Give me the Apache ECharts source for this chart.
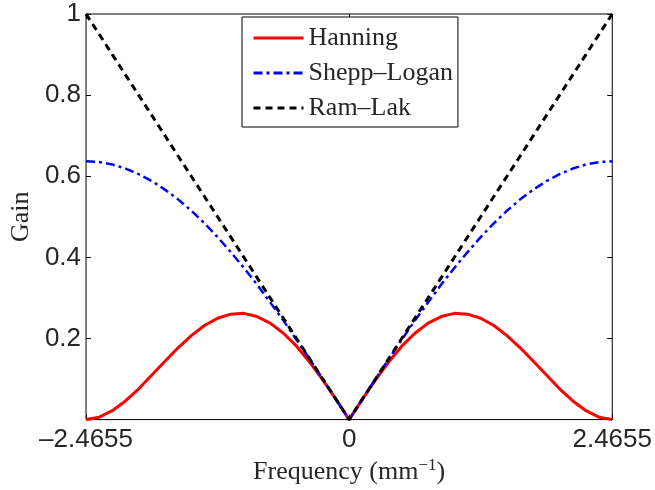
<!DOCTYPE html>
<html>
<head>
<meta charset="utf-8">
<script src="https://cdn.jsdelivr.net/npm/echarts@6/dist/echarts.min.js"></script>
<style>
  html, body { margin: 0; padding: 0; background: #fff; }
  #chart { width: 655px; height: 490px; }
</style>
</head>
<body>
<div id="chart"></div>
<script>
// 频率轴（mm^-1），从图上读出的采样点
const FREQ = [
  -2.4655, -2.342, -2.219, -2.096, -1.972, -1.849, -1.726, -1.603, -1.479, -1.356,
  -1.233, -1.109, -0.986, -0.863, -0.740, -0.616, -0.493, -0.370, -0.247, -0.123,
  0,
  0.123, 0.247, 0.370, 0.493, 0.616, 0.740, 0.863, 0.986, 1.109, 1.233,
  1.356, 1.479, 1.603, 1.726, 1.849, 1.972, 2.096, 2.219, 2.342, 2.4655
];
const HANNING = [
  0.000, 0.006, 0.022, 0.046, 0.076, 0.110, 0.144, 0.177, 0.207, 0.232,
  0.250, 0.260, 0.262, 0.254, 0.238, 0.213, 0.181, 0.142, 0.098, 0.050,
  0,
  0.050, 0.098, 0.142, 0.181, 0.213, 0.238, 0.254, 0.262, 0.260, 0.250,
  0.232, 0.207, 0.177, 0.144, 0.110, 0.076, 0.046, 0.022, 0.006, 0.000
];
const SHEPP_LOGAN = [
  0.637, 0.635, 0.629, 0.619, 0.605, 0.588, 0.567, 0.543, 0.515, 0.484,
  0.450, 0.413, 0.374, 0.333, 0.289, 0.244, 0.197, 0.149, 0.100, 0.050,
  0,
  0.050, 0.100, 0.149, 0.197, 0.244, 0.289, 0.333, 0.374, 0.413, 0.450,
  0.484, 0.515, 0.543, 0.567, 0.588, 0.605, 0.619, 0.629, 0.635, 0.637
];
const RAM_LAK = [
  1.00, 0.95, 0.90, 0.85, 0.80, 0.75, 0.70, 0.65, 0.60, 0.55,
  0.50, 0.45, 0.40, 0.35, 0.30, 0.25, 0.20, 0.15, 0.10, 0.05,
  0,
  0.05, 0.10, 0.15, 0.20, 0.25, 0.30, 0.35, 0.40, 0.45, 0.50,
  0.55, 0.60, 0.65, 0.70, 0.75, 0.80, 0.85, 0.90, 0.95, 1.00
];
const X_MAX = 2.4655;
const Y_TICKS = [0.2, 0.4, 0.6, 0.8, 1];

const SANS = "'Liberation Sans', Arial, sans-serif";
const SERIF = "'Liberation Serif', 'Times New Roman', serif";
const INK = "#262626";

const pairs = (ys) => FREQ.map((x, i) => [x, ys[i]]);

const chart = echarts.init(document.getElementById("chart"), null, { renderer: "canvas" });

const tick = { show: true, inside: true, length: 5, lineStyle: { color: "#000", width: 1 } };
const noLine = { show: false, onZero: false };

chart.setOption({
  animation: false,
  grid: {
    left: 85, right: 41, top: 14, bottom: 70,
    show: true, borderColor: "#000", borderWidth: 1, backgroundColor: "#fff",
  },
  legend: {
    orient: "vertical",
    left: 242, top: 17,
    padding: [8, 5, 6, 10],
    itemWidth: 50, itemHeight: 12, itemGap: 9,
    borderColor: "#000", borderWidth: 1, backgroundColor: "#fff", borderRadius: 0,
    itemStyle: { opacity: 0 },
    lineStyle: { width: 3 },
    textStyle: { fontFamily: SERIF, fontSize: 26, color: INK },
    data: ["Hanning", "Shepp\u2013Logan", "Ram\u2013Lak"],
  },
  xAxis: [
    {
      type: "value",
      min: -X_MAX, max: X_MAX, interval: X_MAX,
      name: "{a|Frequency (mm}{sup|\u22121}{a|)}",
      nameLocation: "middle", nameGap: 33,
      nameTextStyle: {
        rich: {
          a: { fontFamily: SERIF, fontSize: 26, color: INK },
          sup: { fontFamily: SERIF, fontSize: 17, color: INK, verticalAlign: "top", padding: [0, 0, 12, 0] },
        },
      },
      axisLine: noLine,
      axisTick: tick,
      splitLine: { show: false },
      axisLabel: {
        margin: 7, fontFamily: SANS, fontSize: 26, color: INK,
        formatter: (v) => (Math.abs(v) < 1e-9 ? "0" : (v < 0 ? "\u2013" : "") + X_MAX.toFixed(4)),
      },
    },
    {
      type: "value", position: "top",
      min: -X_MAX, max: X_MAX, interval: X_MAX,
      axisLine: noLine, axisTick: tick, axisLabel: { show: false }, splitLine: { show: false },
    },
  ],
  yAxis: [
    {
      type: "value", min: 0, max: 1, interval: 0.2,
      name: "Gain", nameLocation: "middle", nameGap: 45,
      nameTextStyle: { fontFamily: SERIF, fontSize: 26, color: INK },
      axisLine: noLine, axisTick: tick, splitLine: { show: false },
      axisLabel: {
        margin: 5, fontFamily: SANS, fontSize: 26, color: INK,
        formatter: (v) => {
          const t = Y_TICKS.find((y) => Math.abs(y - v) < 1e-6);
          return t === undefined ? "" : String(t);
        },
      },
    },
    {
      type: "value", position: "right", min: 0, max: 1, interval: 0.2,
      axisLine: noLine, axisTick: tick, axisLabel: { show: false }, splitLine: { show: false },
    },
  ],
  series: [
    {
      name: "Hanning", type: "line", data: pairs(HANNING),
      showSymbol: false, symbol: "none", z: 3,
      lineStyle: { color: "#ff0000", width: 3 },
      itemStyle: { color: "#ff0000" },
    },
    {
      name: "Shepp\u2013Logan", type: "line", data: pairs(SHEPP_LOGAN),
      showSymbol: false, symbol: "none", z: 4,
      lineStyle: { color: "#0000ff", width: 2.5, type: [9, 4, 3, 4] },
      itemStyle: { color: "#0000ff" },
    },
    {
      name: "Ram\u2013Lak", type: "line", data: pairs(RAM_LAK),
      showSymbol: false, symbol: "none", z: 5,
      lineStyle: { color: "#000", width: 3, type: [7, 5] },
      itemStyle: { color: "#000" },
    },
  ],
});
</script>
</body>
</html>
